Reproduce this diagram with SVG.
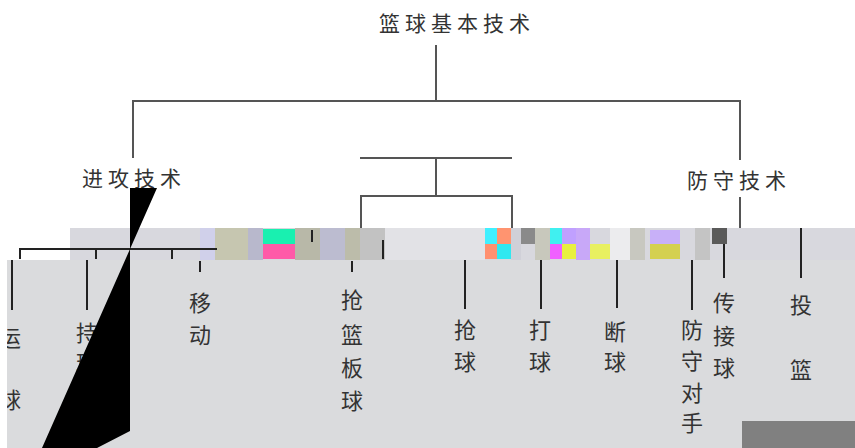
<svg xmlns="http://www.w3.org/2000/svg" width="855" height="448" viewBox="0 0 855 448">
<style>
  .t{font-family:"Noto Sans CJK SC","Noto Sans",sans-serif;font-size:22px;fill:#333;text-anchor:middle}
  .h{font-size:21px;letter-spacing:5px}
  .top{stroke:#555;stroke-width:2;fill:none}
  .dk{stroke:#222;stroke-width:2;fill:none}
</style>
<rect width="855" height="448" fill="#fff"/>
<g id="background">
  <rect x="7" y="260" width="848" height="188" fill="#dadbdd"/>
  <rect x="70" y="228" width="785" height="32" fill="#d8d8de"/>
  <rect x="200" y="228" width="15" height="32" fill="#d0d0ea"/>
  <rect x="215" y="228" width="33" height="32" fill="#c6c6b0"/>
  <rect x="248" y="228" width="15" height="32" fill="#b8b8cc"/>
  <rect x="263" y="229" width="32" height="15" fill="#19f0b0"/>
  <rect x="263" y="244" width="32" height="15" fill="#ff5aa8"/>
  <rect x="295" y="228" width="25" height="32" fill="#b8b8a8"/>
  <rect x="320" y="228" width="25" height="32" fill="#bcbcd0"/>
  <rect x="345" y="228" width="15" height="32" fill="#bcbcaa"/>
  <rect x="360" y="228" width="25" height="32" fill="#c2c2c2"/>
  <rect x="385" y="228" width="100" height="32" fill="#e2e2e6"/>
  <rect x="485" y="228" width="12" height="16" fill="#40f0ff"/>
  <rect x="485" y="244" width="12" height="15" fill="#ff9070"/>
  <rect x="497" y="228" width="14" height="16" fill="#ff9470"/>
  <rect x="497" y="244" width="14" height="15" fill="#30e8f0"/>
  <rect x="511" y="228" width="10" height="32" fill="#d0d0d8"/>
  <rect x="521" y="228" width="14" height="16" fill="#8a8a8a"/>
  <rect x="535" y="228" width="15" height="32" fill="#c8c8bc"/>
  <rect x="550" y="228" width="12" height="16" fill="#40f0f0"/>
  <rect x="550" y="244" width="12" height="15" fill="#f060ff"/>
  <rect x="562" y="228" width="14" height="16" fill="#c0a0ff"/>
  <rect x="562" y="244" width="14" height="15" fill="#e8f040"/>
  <rect x="576" y="228" width="14" height="32" fill="#c8a8f8"/>
  <rect x="590" y="244" width="20" height="15" fill="#e8f060"/>
  <rect x="610" y="228" width="20" height="32" fill="#ececee"/>
  <rect x="630" y="228" width="15" height="32" fill="#c8c8c0"/>
  <rect x="650" y="244" width="30" height="15" fill="#d4d050"/>
  <rect x="650" y="230" width="30" height="14" fill="#c8b0f8"/>
  <rect x="695" y="228" width="15" height="32" fill="#c4c4c4"/>
  <rect x="712" y="228" width="15" height="16" fill="#5a5a5a"/>
  <rect x="742" y="421" width="113" height="27" fill="#808080"/>
</g>
<g id="connectors">
  <line class="top" x1="436" y1="45" x2="436" y2="101"/>
  <polyline class="top" points="133,158 133,101 740,101 740,160"/>
  <line class="top" x1="740" y1="197" x2="740" y2="228"/>
  <line class="top" x1="360" y1="158" x2="512" y2="158"/>
  <line class="top" x1="436" y1="158" x2="436" y2="196"/>
  <polyline class="top" points="361,228 361,196 512,196 512,228"/>
  <polyline class="dk" points="20,259 20,249 217,249"/>
  <line class="dk" x1="96" y1="249" x2="96" y2="259"/>
  <line class="dk" x1="172" y1="249" x2="172" y2="259"/>
  <line class="dk" x1="312" y1="230" x2="312" y2="242"/>
  <line class="dk" x1="383" y1="240" x2="383" y2="259"/>
  <line class="dk" x1="12" y1="260" x2="12" y2="310"/>
  <line class="dk" x1="87" y1="260" x2="87" y2="310"/>
  <line class="dk" x1="200" y1="261" x2="200" y2="272"/>
  <line class="dk" x1="352" y1="261" x2="352" y2="272"/>
  <line class="dk" x1="465" y1="260" x2="465" y2="309"/>
  <line class="dk" x1="541" y1="260" x2="541" y2="309"/>
  <line class="dk" x1="617" y1="260" x2="617" y2="308"/>
  <line class="dk" x1="692" y1="260" x2="692" y2="310"/>
  <line class="dk" x1="724" y1="244" x2="724" y2="278"/>
  <line class="dk" x1="801" y1="228" x2="801" y2="278"/>
</g>
<g id="root"><text class="t h" x="457" y="31">篮球基本技术</text></g>
<g id="attack"><text class="t h" x="134" y="186">进攻技术</text></g>
<g id="defense"><text class="t h" x="739" y="188">防守技术</text></g>
<g id="dribble"><text class="t"><tspan x="10" y="346">运</tspan><tspan x="10" y="408">球</tspan></text></g>
<g id="hold"><text class="t"><tspan x="87" y="341">持</tspan><tspan x="87" y="371">球</tspan></text></g>
<g id="move"><text class="t"><tspan x="200" y="311">移</tspan><tspan x="200" y="343">动</tspan></text></g>
<g id="rebound"><text class="t"><tspan x="352" y="308">抢</tspan><tspan x="352" y="343">篮</tspan><tspan x="352" y="376">板</tspan><tspan x="352" y="409">球</tspan></text></g>
<g id="steal"><text class="t"><tspan x="465" y="338">抢</tspan><tspan x="465" y="370">球</tspan></text></g>
<g id="hit"><text class="t"><tspan x="540" y="338">打</tspan><tspan x="540" y="370">球</tspan></text></g>
<g id="intercept"><text class="t"><tspan x="615" y="340">断</tspan><tspan x="615" y="370">球</tspan></text></g>
<g id="guard"><text class="t"><tspan x="692" y="338">防</tspan><tspan x="692" y="369">守</tspan><tspan x="692" y="401">对</tspan><tspan x="692" y="431">手</tspan></text></g>
<g id="pass"><text class="t"><tspan x="724" y="311">传</tspan><tspan x="724" y="344">接</tspan><tspan x="724" y="376">球</tspan></text></g>
<g id="shoot"><text class="t"><tspan x="801" y="313">投</tspan><tspan x="801" y="378">篮</tspan></text></g>
<g id="artifacts">
  <rect x="0" y="260" width="7" height="188" fill="#fff"/>
  <polygon points="130,188 157,188 42,448 97,448 130,431" fill="#000"/>
</g>
</svg>
